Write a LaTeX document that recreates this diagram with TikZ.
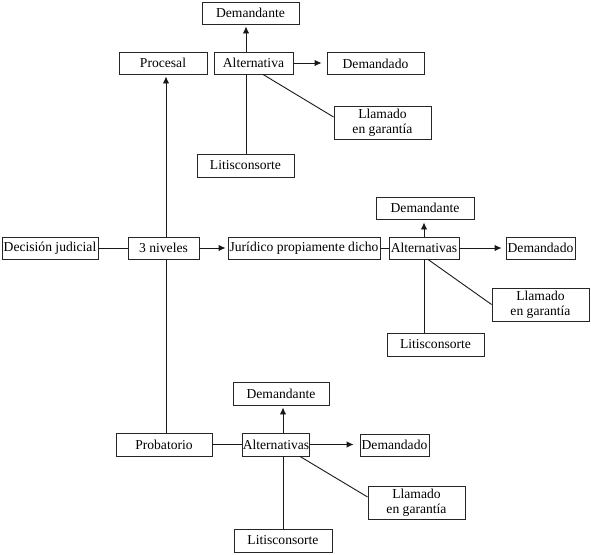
\documentclass[tikz,border=0pt]{standalone}
\usepackage{fontspec}
\setmainfont{Liberation Serif}
\usetikzlibrary{arrows.meta}
\begin{document}
\begin{tikzpicture}[x=1pt,y=-1pt,
  box/.style={draw=black!85, line width=0.9pt, inner sep=0pt, align=center,
    font=\fontsize{13.6}{14.5}\selectfont},
  conn/.style={draw=black!90, line width=0.9pt},
  arr/.style={conn, -{Latex[length=7pt,width=6.5pt]}}]
\useasboundingbox (0,0) rectangle (591,554);
% top cluster
\node[box, minimum width=97pt, minimum height=22pt] (dem1) at (250.5,13) {Demandante};
\node[box, minimum width=88pt, minimum height=22pt] (proc) at (163,63) {Procesal};
\node[box, minimum width=79pt, minimum height=22pt] (alt1) at (253.5,63) {Alternativa};
\node[box, minimum width=97pt, minimum height=22pt] (dmd1) at (375.5,63.5) {Demandado};
\node[box, minimum width=97pt, minimum height=33pt] (ll1) at (382.5,122.5) {Llamado\\en garantía};
\node[box, minimum width=97pt, minimum height=23pt] (lit1) at (245.5,165.5) {Litisconsorte};
% middle row
\node[box, minimum width=96pt, minimum height=22pt] (dec) at (50,248) {Decisión judicial};
\node[box, minimum width=71pt, minimum height=22pt] (niv) at (163.5,248) {3 niveles};
\node[box, minimum width=152pt, minimum height=22pt] (jur) at (304,248) {Jurídico propiamente dicho};
\node[box, minimum width=70pt, minimum height=22pt] (alt2) at (424,248) {Alternativas};
\node[box, minimum width=98pt, minimum height=22pt] (dem2) at (425,208) {Demandante};
\node[box, minimum width=69pt, minimum height=22pt] (dmd2) at (540.5,248) {Demandado};
\node[box, minimum width=97pt, minimum height=33pt] (ll2) at (540.5,304.5) {Llamado\\en garantía};
\node[box, minimum width=97pt, minimum height=23pt] (lit2) at (435.5,344.5) {Litisconsorte};
% bottom cluster
\node[box, minimum width=96pt, minimum height=23pt] (prob) at (164,444.5) {Probatorio};
\node[box, minimum width=67pt, minimum height=23pt] (alt3) at (276,444.5) {Alternativas};
\node[box, minimum width=96pt, minimum height=23pt] (dem3) at (281,393.5) {Demandante};
\node[box, minimum width=69pt, minimum height=22pt] (dmd3) at (394.5,445) {Demandado};
\node[box, minimum width=97pt, minimum height=33pt] (ll3) at (416.5,502.5) {Llamado\\en garantía};
\node[box, minimum width=98pt, minimum height=23pt] (lit3) at (283,540.5) {Litisconsorte};
% connectors top
\draw[arr, shorten >=2pt] (alt1.north -| 246,0) -- (dem1.south -| 246,0);
\draw[conn] (alt1.south -| 246,0) -- (lit1.north -| 246,0);
\draw[arr, shorten >=5pt] (alt1.east) -- (dmd1.west |- alt1.east);
\draw[conn] (alt1.south -| 263,0) -- ([yshift=5.5pt]ll1.west);
% main spine
\draw[arr, shorten >=2pt] (niv.north -| 166,0) -- (proc.south -| 166,0);
\draw[conn] (niv.south -| 166,0) -- (prob.north -| 166,0);
\draw[conn] (dec.east) -- (niv.west);
\draw[arr, shorten >=2pt] (niv.east) -- (jur.west);
% middle cluster
\draw[conn] (jur.east) -- (alt2.west);
\draw[arr, shorten >=3pt] (alt2.north) -- (dem2.south -| alt2.north);
\draw[arr, shorten >=4pt] (alt2.east) -- (dmd2.west);
\draw[conn] (alt2.south) -- (lit2.north -| alt2.south);
\draw[conn] ([xshift=4pt]alt2.south) -- (ll2.west);
% bottom cluster
\draw[conn] (prob.east) -- (alt3.west);
\draw[arr, shorten >=2pt] (alt3.north -| 283,0) -- (dem3.south -| 283,0);
\draw[arr, shorten >=6pt] (alt3.east) -- (dmd3.west |- alt3.east);
\draw[conn] (alt3.south -| 283,0) -- (lit3.north -| 283,0);
\draw[conn] (alt3.south -| 300,0) -- ([yshift=5.5pt]ll3.west);
\end{tikzpicture}
\end{document}
